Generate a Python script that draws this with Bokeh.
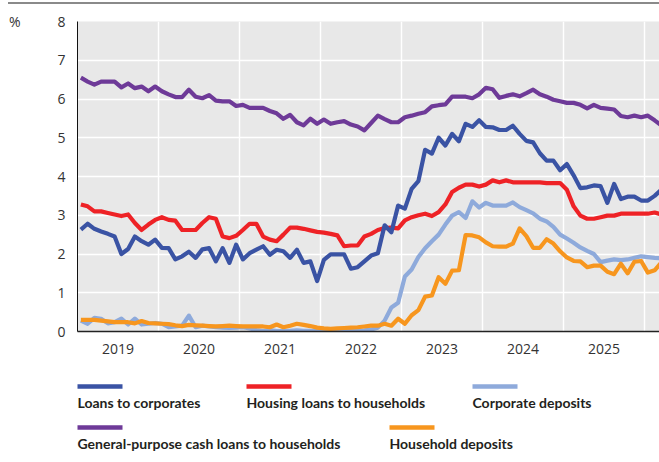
from bokeh.plotting import figure
from bokeh.models import FixedTicker, LinearAxis, Range1d
from bokeh.layouts import column
from bokeh.embed import file_html
from bokeh.resources import INLINE
from bokeh.core.properties import value

# ---------------- data (monthly, Jan 2019 onwards, %) ----------------
start_year = 2019
years = ["2019", "2020", "2021", "2022", "2023", "2024", "2025"]

loans_corporates = [
    2.63, 2.78, 2.65, 2.58, 2.52, 2.45, 2.00, 2.13, 2.45, 2.33,
    2.24, 2.37, 2.16, 2.15, 1.86, 1.94, 2.06, 1.90, 2.12, 2.15,
    1.81, 2.15, 1.77, 2.24, 1.86, 2.02, 2.11, 2.20, 1.98, 2.11,
    2.07, 1.90, 2.11, 1.77, 1.81, 1.30, 1.85, 1.99, 1.99, 1.99,
    1.62, 1.66, 1.81, 1.96, 2.02, 2.74, 2.56, 3.25, 3.17, 3.68,
    3.88, 4.69, 4.59, 5.00, 4.80, 5.10, 4.91, 5.36, 5.28, 5.45,
    5.28, 5.27, 5.20, 5.20, 5.31, 5.10, 4.92, 4.88, 4.60, 4.41,
    4.41, 4.16, 4.32, 4.03, 3.70, 3.72, 3.77, 3.75, 3.32, 3.81,
    3.42, 3.48, 3.48, 3.38, 3.38, 3.50, 3.66]

housing_loans = [
    3.28, 3.23, 3.10, 3.10, 3.06, 3.02, 2.98, 3.02, 2.80, 2.62,
    2.76, 2.88, 2.95, 2.88, 2.86, 2.62, 2.62, 2.62, 2.80, 2.95,
    2.91, 2.45, 2.41, 2.47, 2.62, 2.78, 2.78, 2.45, 2.37, 2.33,
    2.50, 2.68, 2.68, 2.65, 2.61, 2.57, 2.55, 2.52, 2.48, 2.20,
    2.22, 2.22, 2.45, 2.52, 2.62, 2.67, 2.68, 2.66, 2.87, 2.95,
    3.00, 3.04, 2.98, 3.08, 3.28, 3.60, 3.71, 3.79, 3.79, 3.74,
    3.79, 3.90, 3.85, 3.90, 3.85, 3.85, 3.85, 3.85, 3.85, 3.83,
    3.83, 3.83, 3.66, 3.23, 2.99, 2.91, 2.91, 2.95, 2.99, 2.99,
    3.04, 3.04, 3.04, 3.04, 3.04, 3.07, 3.02]

corporate_deposits = [
    0.28, 0.20, 0.35, 0.33, 0.21, 0.24, 0.33, 0.18, 0.33, 0.18,
    0.20, 0.22, 0.20, 0.11, 0.13, 0.15, 0.41, 0.11, 0.15, 0.13,
    0.11, 0.10, 0.09, 0.10, 0.11, 0.08, 0.04, 0.01, 0.04, 0.01,
    0.01, 0.02, 0.03, 0.02, 0.02, 0.02, 0.02, 0.02, 0.02, 0.02,
    0.02, 0.02, 0.03, 0.05, 0.10, 0.28, 0.62, 0.74, 1.42, 1.60,
    1.92, 2.15, 2.33, 2.50, 2.76, 2.99, 3.08, 2.93, 3.36, 3.20,
    3.32, 3.25, 3.25, 3.25, 3.33, 3.21, 3.13, 3.05, 2.91, 2.84,
    2.70, 2.50, 2.40, 2.29, 2.17, 2.08, 2.00, 1.79, 1.83, 1.86,
    1.84, 1.86, 1.90, 1.94, 1.92, 1.90, 1.89]

cash_loans = [
    6.55, 6.45, 6.37, 6.45, 6.45, 6.45, 6.30, 6.40, 6.28, 6.32,
    6.20, 6.32, 6.20, 6.12, 6.05, 6.05, 6.24, 6.06, 6.02, 6.10,
    5.96, 5.94, 5.94, 5.82, 5.85, 5.77, 5.77, 5.77, 5.69, 5.63,
    5.49, 5.59, 5.40, 5.32, 5.49, 5.36, 5.47, 5.36, 5.40, 5.43,
    5.34, 5.29, 5.19, 5.38, 5.57, 5.48, 5.40, 5.40, 5.53, 5.57,
    5.62, 5.66, 5.81, 5.84, 5.86, 6.06, 6.06, 6.06, 6.02, 6.12,
    6.29, 6.25, 6.03, 6.08, 6.12, 6.07, 6.15, 6.24, 6.12, 6.06,
    5.98, 5.94, 5.90, 5.90, 5.85, 5.76, 5.85, 5.77, 5.75, 5.73,
    5.56, 5.53, 5.57, 5.53, 5.57, 5.45, 5.32]

household_deposits = [
    0.30, 0.30, 0.30, 0.28, 0.26, 0.24, 0.24, 0.24, 0.21, 0.27,
    0.22, 0.21, 0.20, 0.19, 0.16, 0.14, 0.17, 0.16, 0.15, 0.14,
    0.13, 0.14, 0.15, 0.14, 0.13, 0.13, 0.13, 0.13, 0.11, 0.18,
    0.11, 0.15, 0.20, 0.17, 0.14, 0.10, 0.08, 0.07, 0.08, 0.09,
    0.10, 0.11, 0.13, 0.15, 0.15, 0.20, 0.15, 0.33, 0.20, 0.42,
    0.55, 0.90, 0.93, 1.40, 1.23, 1.57, 1.58, 2.49, 2.48, 2.43,
    2.30, 2.20, 2.19, 2.19, 2.27, 2.66, 2.46, 2.16, 2.16, 2.38,
    2.27, 2.07, 1.91, 1.82, 1.81, 1.66, 1.70, 1.70, 1.54, 1.48,
    1.75, 1.50, 1.80, 1.82, 1.52, 1.58, 1.78]

labels = ["Loans to corporates", "Housing loans to households", "Corporate deposits",
          "General-purpose cash loans to households", "Household deposits"]
colors = ["#3a53a4", "#ee2226", "#8eaadb", "#6e3a98", "#f7961e"]
unit_label = "%"

# month mid-points as fractional years
x = [start_year + (i + 0.5) / 12 for i in range(len(loans_corporates))]

W = 659
FONT = "Open Sans"
LEG_FONT = "Lato"

# ---------------- main chart (with the grey header rule as a CSS background) ----------------
x_end = start_year + (W - 77) / 81.0
p = figure(width=W, height=371, x_range=Range1d(start_year, x_end), y_range=Range1d(0, 8),
           min_border_left=77, min_border_right=0, min_border_top=21, min_border_bottom=40,
           toolbar_location=None, output_backend="svg", frame_align=False,
           background_fill_color="#e8e8e8", border_fill_alpha=0,
           outline_line_color=None,
           styles={"background": "linear-gradient(#8a8a8a, #8a8a8a) no-repeat 8px 2px / 651px 2px, white"})

series = [corporate_deposits, household_deposits, housing_loans, loans_corporates, cash_loans]
series_colors = [colors[2], colors[4], colors[1], colors[0], colors[3]]
for ys, c in zip(series, series_colors):
    p.line(x, ys, line_color=c, line_width=4.2, line_join="round")

year_mid = [int(y) + 0.5 for y in years]
p.xaxis.ticker = FixedTicker(ticks=year_mid)
p.xaxis.major_label_overrides = {m: y for m, y in zip(year_mid, years)}
p.xgrid.ticker = FixedTicker(ticks=[int(y) + 1 for y in years])
p.yaxis.ticker = FixedTicker(ticks=list(range(0, 9)))

# outer left axis carrying only the unit sign at the top
unit_axis = LinearAxis(ticker=FixedTicker(ticks=[8]), major_label_overrides={8: unit_label})
p.add_layout(unit_axis, "left")

for ax in (p.xaxis[0], p.yaxis[0], unit_axis):
    ax.major_tick_line_color = None
    ax.minor_tick_line_color = None
    ax.major_tick_out = 0
    ax.major_tick_in = 0
    ax.major_label_text_font = FONT
    ax.major_label_text_font_size = "14px"
    ax.major_label_text_color = "#333333"
p.xaxis.axis_line_color = "#222222"
p.xaxis.axis_line_width = 1.5
p.xaxis.major_label_standoff = 12
p.yaxis[0].axis_line_color = "#111111"
p.yaxis[0].axis_line_width = 1
p.yaxis[0].major_label_standoff = 12
unit_axis.axis_line_color = None
unit_axis.major_label_standoff = 34

p.xgrid.grid_line_color = "white"
p.xgrid.grid_line_width = 1.5
p.ygrid.grid_line_color = "white"
p.ygrid.grid_line_width = 1.5

# ---------------- legend ----------------
leg = figure(width=W, height=91, x_range=Range1d(0, W), y_range=Range1d(462, 371),
             min_border=0, toolbar_location=None, output_backend="svg", frame_align=False,
             x_axis_location=None, y_axis_location=None, outline_line_color=None)
leg.grid.visible = False
leg_x = [77, 246, 472, 77, 389]
leg_row = [0, 0, 0, 1, 1]
sw_y = [386 + 41 * r for r in leg_row]
tx_y = [402 + 41 * r for r in leg_row]
leg.segment(x0=leg_x, y0=sw_y, x1=[v + 45 for v in leg_x], y1=sw_y,
            line_color=colors, line_width=4.5)
leg.text(x=leg_x, y=tx_y, text=labels, text_baseline="middle", text_align="left",
         text_font=value(LEG_FONT), text_font_style="bold", text_font_size="14px",
         text_color="#231f20")

layout = column(p, leg, spacing=0)

open("out.html", "w").write(file_html(layout, INLINE))
